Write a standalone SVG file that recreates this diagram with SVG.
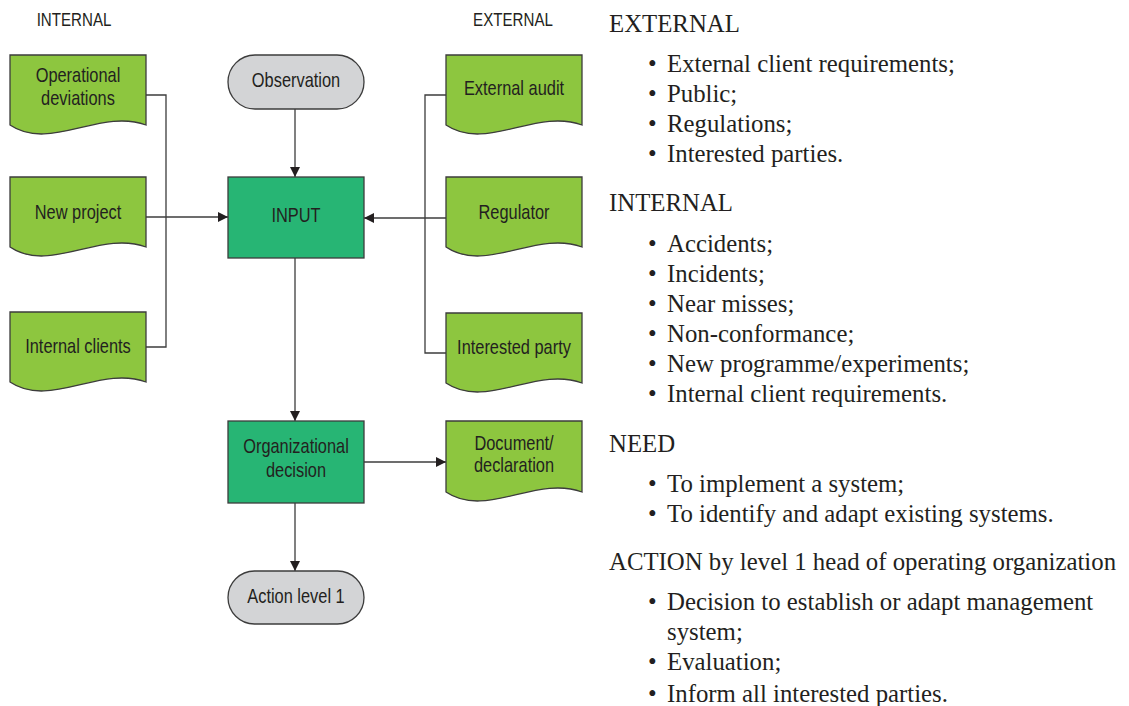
<svg xmlns="http://www.w3.org/2000/svg" width="1129" height="706" viewBox="0 0 1129 706">
  <style>
    .doc { fill: #8dc63f; stroke: #3c3c3c; stroke-width: 1.3; }
    .proc { fill: #27b574; stroke: #3c3c3c; stroke-width: 1.3; }
    .term { fill: #d3d4d6; stroke: #3c3c3c; stroke-width: 1.3; }
    /* condensed sans: Liberation Sans squeezed horizontally via the transform on each label */
    .lbl { font-family: "Liberation Sans", Arial, sans-serif; font-size: 20px; fill: #231f20; text-anchor: middle; }
    .hdr { font-family: "Liberation Sans", Arial, sans-serif; font-size: 18px; fill: #231f20; text-anchor: middle; }
    .conn { fill: none; stroke: #3c3c3c; stroke-width: 1.3; }
    .notes { font-family: "Liberation Serif", "Times New Roman", serif; font-size: 24.8px; fill: #231f20; }
  </style>
  <defs>
    <marker id="arrow" viewBox="0 0 10 10" refX="10" refY="5" markerWidth="10" markerHeight="10" markerUnits="userSpaceOnUse" orient="auto">
      <path d="M0,0 L10,5 L0,10 Z" fill="#231f20"/>
    </marker>
  </defs>

  <rect width="1129" height="706" fill="#ffffff"/>

  <!-- column headings -->
  <text class="hdr" transform="translate(74 26) scale(0.84 1)">INTERNAL</text>
  <text class="hdr" transform="translate(513 26) scale(0.84 1)">EXTERNAL</text>

  <!-- connectors -->
  <g id="connectors">
    <path class="conn" d="M146,95 H166 V347 H146"/>
    <path class="conn" d="M146,217 H228" marker-end="url(#arrow)"/>
    <path class="conn" d="M446,95 H425 V353 H446"/>
    <path class="conn" d="M446,218 H364" marker-end="url(#arrow)"/>
    <path class="conn" d="M295,109 V177" marker-end="url(#arrow)"/>
    <path class="conn" d="M295,258 V421" marker-end="url(#arrow)"/>
    <path class="conn" d="M364,462 H446" marker-end="url(#arrow)"/>
    <path class="conn" d="M295,503 V571" marker-end="url(#arrow)"/>
  </g>

  <!-- internal sources -->
  <g id="operational-deviations">
    <path class="doc" d="M10,55 H146 V125 C100,108 50,152 10,125 Z"/>
    <text class="lbl" transform="translate(78 82) scale(0.82 1)">Operational</text>
    <text class="lbl" transform="translate(78 105) scale(0.82 1)">deviations</text>
  </g>
  <g id="new-project">
    <path class="doc" d="M10,177 H146 V247 C100,230 50,274 10,247 Z"/>
    <text class="lbl" transform="translate(78 219) scale(0.82 1)">New project</text>
  </g>
  <g id="internal-clients">
    <path class="doc" d="M10,312 H146 V382 C100,365 50,409 10,382 Z"/>
    <text class="lbl" transform="translate(78 353) scale(0.82 1)">Internal clients</text>
  </g>

  <!-- external sources -->
  <g id="external-audit">
    <path class="doc" d="M446,55 H582 V125 C536,108 486,152 446,125 Z"/>
    <text class="lbl" transform="translate(514 95) scale(0.82 1)">External audit</text>
  </g>
  <g id="regulator">
    <path class="doc" d="M446,177 H582 V247 C536,230 486,274 446,247 Z"/>
    <text class="lbl" transform="translate(514 219) scale(0.82 1)">Regulator</text>
  </g>
  <g id="interested-party">
    <path class="doc" d="M446,313 H582 V383 C536,366 486,410 446,383 Z"/>
    <text class="lbl" transform="translate(514 354) scale(0.82 1)">Interested party</text>
  </g>

  <!-- central flow -->
  <g id="observation">
    <rect class="term" x="228" y="55" width="136" height="54" rx="27" ry="27"/>
    <text class="lbl" transform="translate(296 87) scale(0.82 1)">Observation</text>
  </g>
  <g id="input">
    <rect class="proc" x="228" y="177" width="136" height="81"/>
    <text class="lbl" transform="translate(296 222) scale(0.82 1)">INPUT</text>
  </g>
  <g id="organizational-decision">
    <rect class="proc" x="228" y="421" width="136" height="82"/>
    <text class="lbl" transform="translate(296 453) scale(0.82 1)">Organizational</text>
    <text class="lbl" transform="translate(296 477) scale(0.82 1)">decision</text>
  </g>
  <g id="document-declaration">
    <path class="doc" d="M446,421 H582 V492 C536,475 486,519 446,492 Z"/>
    <text class="lbl" transform="translate(514 450) scale(0.82 1)">Document/</text>
    <text class="lbl" transform="translate(514 472) scale(0.82 1)">declaration</text>
  </g>
  <g id="action-level-1">
    <rect class="term" x="228" y="571" width="136" height="53" rx="26.5" ry="26.5"/>
    <text class="lbl" transform="translate(296 603) scale(0.82 1)">Action level 1</text>
  </g>

  <!-- explanatory notes -->
  <g id="notes" class="notes">
    <text x="609" y="32">EXTERNAL</text>
    <text x="648" y="72">•</text><text x="667" y="72">External client requirements;</text>
    <text x="648" y="102">•</text><text x="667" y="102">Public;</text>
    <text x="648" y="132">•</text><text x="667" y="132">Regulations;</text>
    <text x="648" y="162">•</text><text x="667" y="162">Interested parties.</text>

    <text x="609" y="211">INTERNAL</text>
    <text x="648" y="252">•</text><text x="667" y="252">Accidents;</text>
    <text x="648" y="282">•</text><text x="667" y="282">Incidents;</text>
    <text x="648" y="312">•</text><text x="667" y="312">Near misses;</text>
    <text x="648" y="342">•</text><text x="667" y="342">Non-conformance;</text>
    <text x="648" y="372">•</text><text x="667" y="372">New programme/experiments;</text>
    <text x="648" y="402">•</text><text x="667" y="402">Internal client requirements.</text>

    <text x="609" y="452">NEED</text>
    <text x="648" y="492">•</text><text x="667" y="492">To implement a system;</text>
    <text x="648" y="522">•</text><text x="667" y="522">To identify and adapt existing systems.</text>

    <text x="609" y="570">ACTION by level 1 head of operating organization</text>
    <text x="648" y="610">•</text><text x="667" y="610">Decision to establish or adapt management</text>
    <text x="667" y="640">system;</text>
    <text x="648" y="670">•</text><text x="667" y="670">Evaluation;</text>
    <text x="648" y="702">•</text><text x="667" y="702">Inform all interested parties.</text>
  </g>
</svg>
